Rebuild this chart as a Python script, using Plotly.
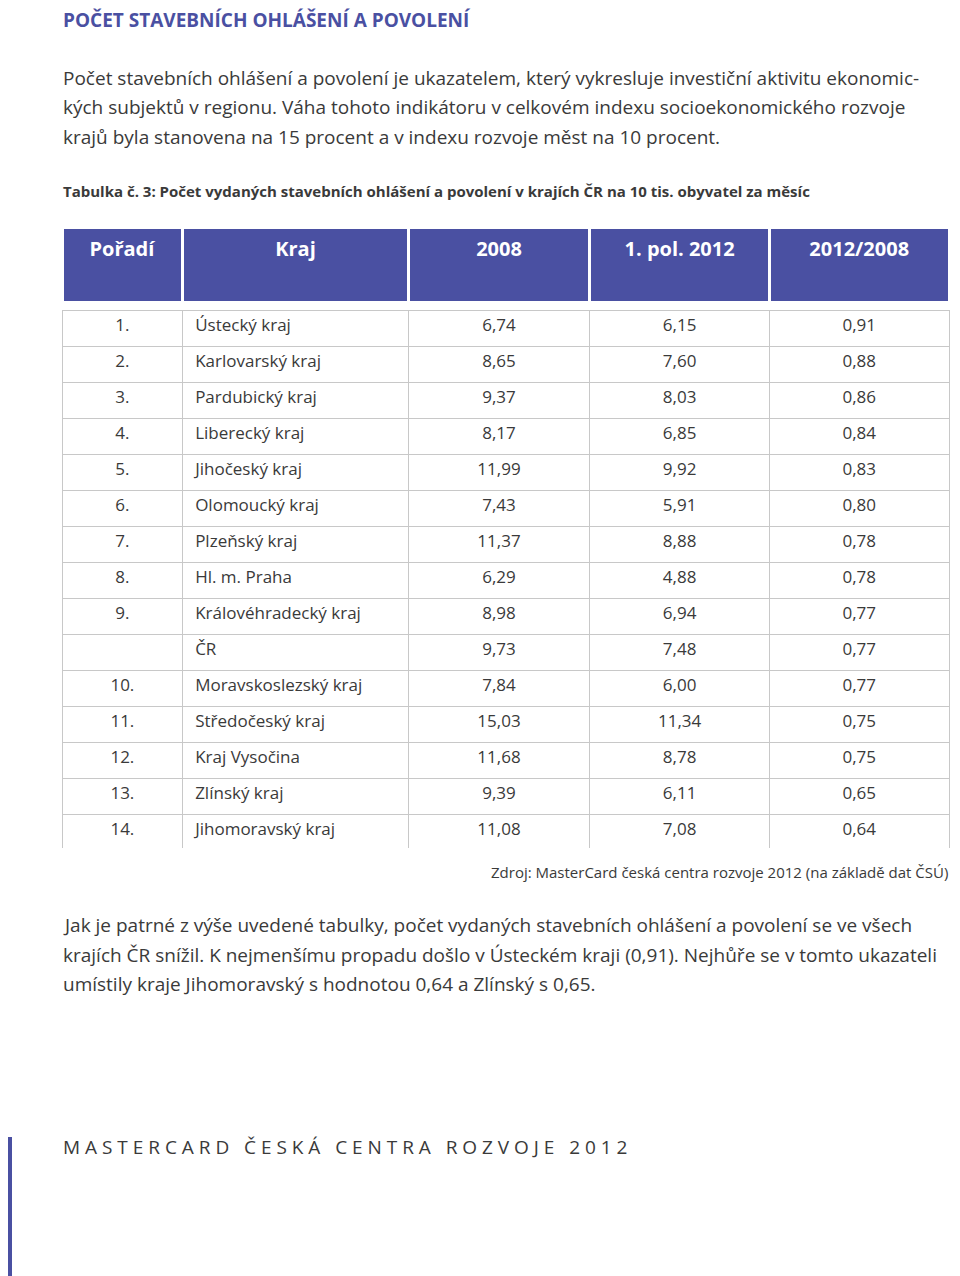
import plotly.graph_objects as go

BLUE = "#4a50a2"
TXT = "#3a3a3a"
FONT = "Open Sans"

headers = ["Pořadí", "Kraj", "2008", "1. pol. 2012", "2012/2008"]
ranks = ["1.", "2.", "3.", "4.", "5.", "6.", "7.", "8.", "9.", "", "10.", "11.", "12.", "13.", "14."]
regions = ["Ústecký kraj", "Karlovarský kraj", "Pardubický kraj", "Liberecký kraj", "Jihočeský kraj",
           "Olomoucký kraj", "Plzeňský kraj", "Hl. m. Praha", "Královéhradecký kraj", "ČR",
           "Moravskoslezský kraj", "Středočeský kraj", "Kraj Vysočina", "Zlínský kraj", "Jihomoravský kraj"]
v2008 = ["6,74", "8,65", "9,37", "8,17", "11,99", "7,43", "11,37", "6,29", "8,98", "9,73",
         "7,84", "15,03", "11,68", "9,39", "11,08"]
v2012 = ["6,15", "7,60", "8,03", "6,85", "9,92", "5,91", "8,88", "4,88", "6,94", "7,48",
         "6,00", "11,34", "8,78", "6,11", "7,08"]
ratio = ["0,91", "0,88", "0,86", "0,84", "0,83", "0,80", "0,78", "0,78", "0,77", "0,77",
         "0,77", "0,75", "0,75", "0,65", "0,64"]

W, H = 960, 1276
DX, DY = 9, 8  # page offset of the rendered figure

def px_(x):
    return (x - DX) / W

def py(y):
    return 1 - (y - DY) / H

colw = [121, 226, 182, 180, 180]
aligns = ["center", "left", "center", "center", "center"]

fig = go.Figure()
# header band
fig.add_trace(go.Table(
    domain=dict(x=[px_(63), px_(951)], y=[py(302), py(227)]),
    columnwidth=colw,
    header=dict(values=[f"<b>{h}</b>" for h in headers], height=75, fill_color=BLUE,
                line=dict(color="white", width=3), align="center",
                font=dict(family=FONT, size=20, color="white")),
    cells=dict(values=[[] for _ in headers], height=0),
))
# body
cols = [ranks, [" " + r for r in regions], v2008, v2012, ratio]
fig.add_trace(go.Table(
    domain=dict(x=[px_(63), px_(951)], y=[py(848), py(310)]),
    columnwidth=colw,
    header=dict(values=[c[0] for c in cols], height=36, fill_color="white",
                line=dict(color="#c8c8c8", width=1), align=aligns,
                font=dict(family=FONT, size=17, color=TXT)),
    cells=dict(values=[c[1:] for c in cols], height=36, fill_color="white",
               line=dict(color="#c8c8c8", width=1), align=aligns,
               font=dict(family=FONT, size=17, color=TXT)),
))

def txt(x, y, s, size=18.5, color=TXT, anchor="left", bold=False):
    if bold:
        s = f"<b>{s}</b>"
    fig.add_annotation(x=px_(x), y=py(y), xref="paper", yref="paper", text=s, showarrow=False,
                       xanchor=anchor, yanchor="middle", align=anchor,
                       font=dict(family=FONT, size=size, color=color))

txt(62, 20, "<b>POČET STAVEBNÍCH OHLÁŠENÍ A POVOLENÍ</b>", size=19, color=BLUE)
para1 = ["Počet stavebních ohlášení a povolení je ukazatelem, který vykresluje investiční aktivitu ekonomic-",
         "kých subjektů v regionu. Váha tohoto indikátoru v celkovém indexu socioekonomického rozvoje",
         "krajů byla stanovena na 15 procent a v indexu rozvoje měst na 10 procent."]
for i, line in enumerate(para1):
    txt(62, 78 + i * 29.5, line, size=19)
txt(62, 191, "Tabulka č. 3: Počet vydaných stavebních ohlášení a povolení v krajích ČR na 10 tis. obyvatel za měsíc",
    size=15, bold=True)
txt(951, 872, "Zdroj: MasterCard česká centra rozvoje 2012 (na základě dat ČSÚ)", size=15, anchor="right")
para2 = ["Jak je patrné z výše uvedené tabulky, počet vydaných stavebních ohlášení a povolení se ve všech",
         "krajích ČR snížil. K nejmenšímu propadu došlo v Ústeckém kraji (0,91). Nejhůře se v tomto ukazateli",
         "umístily kraje Jihomoravský s hodnotou 0,64 a Zlínský s 0,65."]
for i, line in enumerate(para2):
    txt(62, 925 + i * 29.5, line, size=19)
txt(62, 1147, "M A S T E R C A R D &nbsp; Č E S K Á &nbsp; C E N T R A &nbsp; R O Z V O J E &nbsp; 2 0 1 2",
    size=19, color=TXT)

fig.add_shape(type="rect", xref="paper", yref="paper", x0=px_(5), x1=px_(13), y0=0, y1=py(1137),
              fillcolor=BLUE, line=dict(width=0))

fig.update_layout(width=W, height=H, margin=dict(l=0, r=0, t=0, b=0),
                  paper_bgcolor="white", plot_bgcolor="white")
fig.write_html("out.html")
